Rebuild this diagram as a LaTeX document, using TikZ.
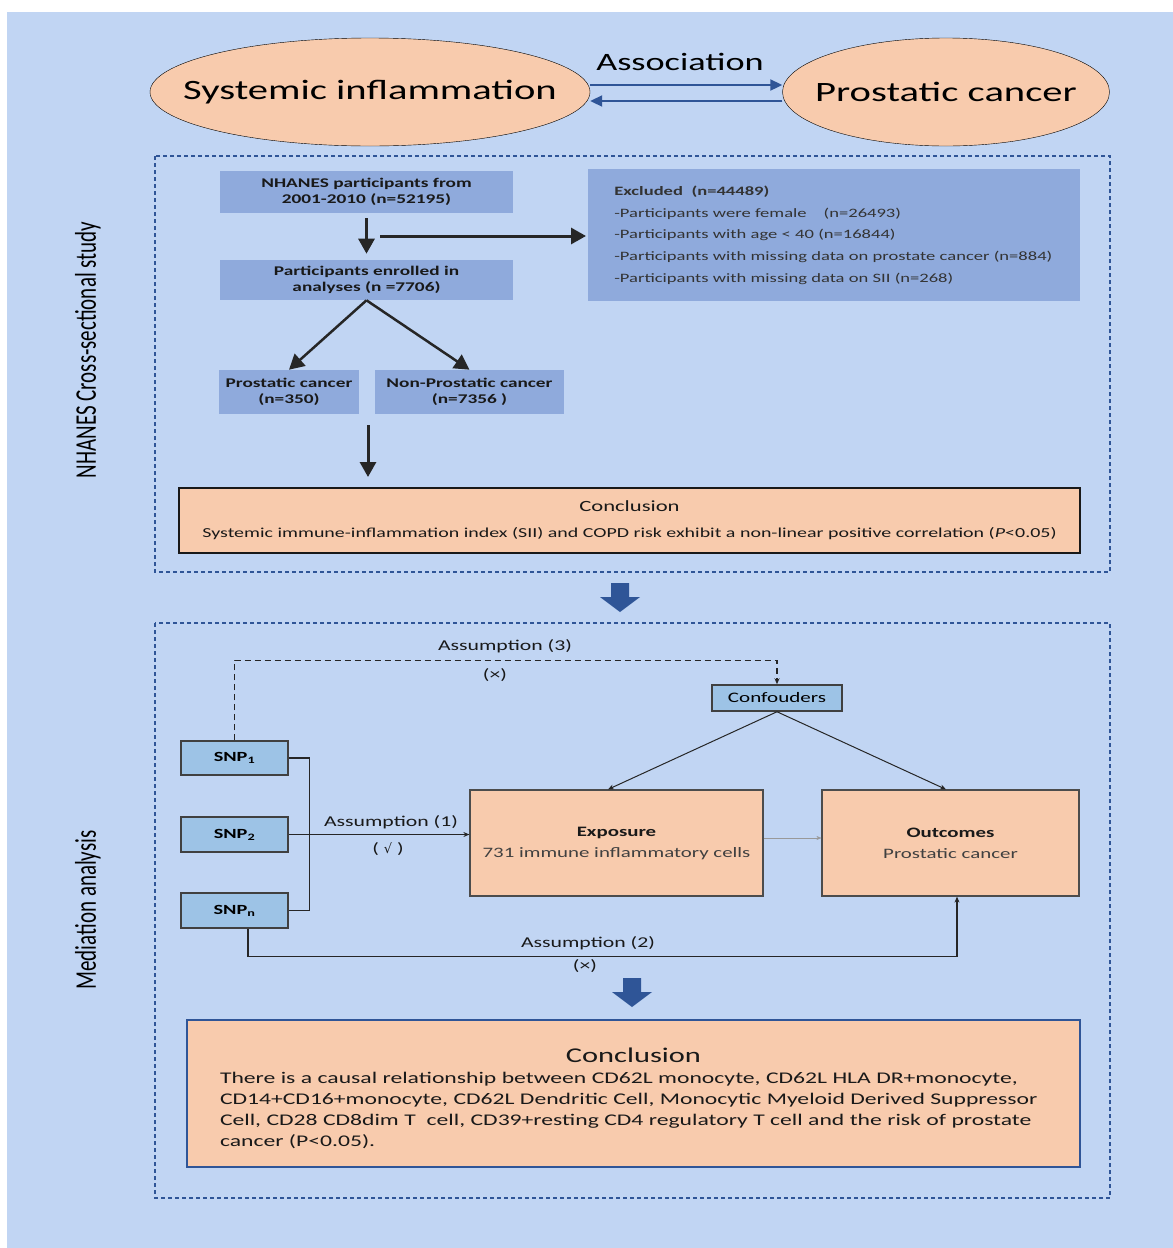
\documentclass[tikz,border=0pt]{standalone}
\usepackage{fontspec}
\setmainfont{Carlito}[FakeStretch=1.45]
\newfontfamily\sidefont{Carlito}[FakeStretch=0.7]
\newfontfamily\symfont{DejaVu Sans}
\usepackage{xcolor}
\usepackage{tikz}
\usetikzlibrary{arrows,arrows.meta,shapes.geometric,positioning,calc}

\definecolor{bgblue}{HTML}{C1D5F3}
\definecolor{peach}{HTML}{F8CBAD}
\definecolor{midblue}{HTML}{8FAADC}
\definecolor{snpblue}{HTML}{9DC3E6}
\definecolor{navy}{HTML}{2F5597}
\definecolor{inkgray}{HTML}{404040}
\newcommand{\fsz}[2]{\fontsize{#1}{#2}\selectfont}

\begin{document}
\begin{tikzpicture}[
    x = 1pt, y = -1pt, % one unit per pixel, y runs down
    > = stealth, % arrow head style
    semithick % line style
]
\tikzstyle{ellbox}=[ellipse, draw=black, thin, fill=peach, inner sep=0pt, font=\fsz{28}{32}]
\tikzstyle{flowbox}=[rectangle, fill=midblue, align=center, inner sep=0pt, text=black!90, font=\bfseries\fsz{13.3}{15.5}]
\tikzstyle{peachbox}=[rectangle, fill=peach, inner sep=0pt, text=black!90]
\tikzstyle{snpbox}=[rectangle, fill=snpblue, draw=black!75, line width=1.5pt, inner sep=0pt, font=\bfseries\fsz{14}{16}]
\tikzstyle{flowarrow}=[-{Triangle[length=15pt,width=16pt]}, line width=3pt, draw=black!85]
\tikzstyle{thinarrow}=[-{Stealth[length=6pt,width=5pt]}, line width=1.2pt, draw=black!85]
\tikzstyle{assocarrow}=[-{Triangle[length=12pt,width=11pt]}, line width=2pt, draw=navy, fill=navy]
\tikzstyle{studyframe}=[draw=navy, line width=2.5pt, dash pattern=on 4pt off 3pt]
\tikzstyle{blockarrow}=[fill=navy]
\tikzstyle{sidelabel}=[rotate=90, font=\sidefont\fsz{30}{32}, text=black]
\tikzstyle{plain}=[font=\fsz{15}{18}, text=black!90]

\useasboundingbox (0,0) rectangle (1173,1248);
\fill[bgblue] (7,12) rectangle (1173,1248);

% top: association
\node[ellbox, minimum width=440, minimum height=108] (infl) at (370,92) {\makebox[0pt]{Systemic inflammation}};
\node[ellbox, minimum width=327, minimum height=108] (pca) at (946,92) {\makebox[0pt]{Prostatic cancer}};
\node[font=\fsz{25}{30}] (assoc) at (680,62) {Association};
\draw[assocarrow] ([yshift=7pt]infl.east) -- ([yshift=7pt]pca.west);
\draw[assocarrow] ([yshift=-9pt]pca.west) -- ([yshift=-9pt]infl.east);

% NHANES part
\draw[studyframe] (155,156) rectangle (1110,572);
\node[sidelabel] (side1) at (88,350) {NHANES Cross-sectional study};

\node[flowbox, minimum width=293, minimum height=42] (nh) at (366.5,192) {NHANES participants from\\2001-2010 (n=52195)};
\node[flowbox, minimum width=293, minimum height=40] (en) at (366.5,280) {Participants enrolled in\\analyses (n =7706)};
\node[flowbox, anchor=north west, minimum width=492, minimum height=132, text width=440,
      align=left, inner xsep=26pt, font=\fsz{12.8}{21.7}, text=black!80] (ex) at (588,169)
  {\textbf{Excluded\ \ (n=44489)}\\
   -Participants were female \ \ \ (n=26493)\\
   -Participants with age < 40 (n=16844)\\
   -Participants with missing data on prostate cancer (n=884)\\
   -Participants with missing data on SII (n=268)};
\node[flowbox, minimum width=140, minimum height=44] (pc) at (289,392) {Prostatic cancer\\(n=350)};
\node[flowbox, minimum width=189, minimum height=44] (npc) at (469.5,392) {Non-Prostatic cancer\\(n=7356 )};

\coordinate (exsplit) at (380,236);
\coordinate (concsplit) at (368,425);
\draw[flowarrow, shorten <=5pt, shorten >=6pt] (nh) -- (en);
\draw[flowarrow, shorten >=2pt] (exsplit) -- (exsplit -| ex.west);
\draw[flowarrow, line width=2.5pt] (en.south) -- (pc.north);
\draw[flowarrow, line width=2.5pt] (en.south) -- (npc.north);

\node[peachbox, draw=black!90, line width=2pt, minimum width=901, minimum height=65,
      align=center, font=\fsz{13.75}{26}] (conc1) at (629.5,520.5)
  {{\fsz{15.6}{26}Conclusion}\\Systemic immune-inflammation index (SII) and COPD risk exhibit a non-linear positive correlation (\textit{P}<0.05)};
\draw[flowarrow, shorten >=10pt] (concsplit) -- (concsplit |- conc1.north);

\coordinate (down1) at (620,583);
\fill[blockarrow] (down1) ++(-9,0) -- ++(18,0) -- ++(0,14) -- ++(11,0) -- ++(-20,15) -- ++(-20,-15) -- ++(11,0) -- cycle;

% mediation part
\draw[studyframe] (155,623) rectangle (1110,1198);
\node[sidelabel] (side2) at (88,910) {Mediation analysis};

\node[snpbox, minimum width=107, minimum height=34] (snp1) at (234.5,758) {SNP\textsubscript{1}};
\node[snpbox, minimum width=107, minimum height=35] (snp2) at (234.5,834.5) {SNP\textsubscript{2}};
\node[snpbox, minimum width=107, minimum height=35] (snpn) at (234.5,910.5) {SNP\textsubscript{n}};
\node[snpbox, font=\fsz{14.5}{17}, minimum width=130, minimum height=26] (conf) at (777,698) {Confouders};

\node[peachbox, draw=black!70, line width=1.2pt, minimum width=293, minimum height=106,
      align=center, font=\fsz{14.4}{21}] (expo) at (616.5,843)
  {\textbf{Exposure}\\\textcolor{inkgray}{731 immune inflammatory cells}};
\node[peachbox, draw=black!70, line width=1.2pt, minimum width=257, minimum height=106,
      align=center, font=\fsz{14.4}{21}] (outc) at (950.5,843)
  {\textbf{Outcomes}\\\textcolor{inkgray}{Prostatic cancer}};

\draw[thinarrow, dash pattern=on 6pt off 4pt] (snp1.north) -- ++(0,-80) -| (conf.north);
\node[plain] (as3) at (505,646) {Assumption (3)};
\node[plain] (no3) at (495,675) {(×)};

\draw[line width=1.2pt, draw=black!85] (snp1.east) -- ++(21,0) |- (snpn.east);
\draw[thinarrow] (snp2.east) -- (expo.west |- snp2.east);
\node[plain] (as1) at (391,822) {Assumption (1)};
\node[plain] (ok1) at (388,849) {( {\symfont\fsz{13}{16}√} )};

\draw[thinarrow, line width=1pt] (conf.south) -- ([xshift=-8.5pt]expo.north);
\draw[thinarrow, line width=1pt] (conf.south) -- ([xshift=-4.5pt]outc.north);
\draw[-{Stealth[length=5pt,width=4pt]}, thin, draw=gray!80] ([yshift=5pt]expo.east) -- ([yshift=5pt]outc.west);

\draw[thinarrow] ([xshift=13.5pt]snpn.south) -- ++(0,28) -| ([xshift=6.5pt]outc.south);
\node[plain] (as2) at (588,943) {Assumption (2)};
\node[plain] (no2) at (585,966) {(×)};

\coordinate (down2) at (632,978);
\fill[blockarrow] (down2) ++(-9,0) -- ++(18,0) -- ++(0,14) -- ++(11,0) -- ++(-20,15) -- ++(-20,-15) -- ++(11,0) -- cycle;

\node[peachbox, draw=navy, line width=2.5pt, minimum width=893, minimum height=147,
      text width=827, inner xsep=33pt, align=left, font=\fsz{16.3}{21}] (conc2) at (633.5,1093.5)
  {{\centering\fsz{21}{21}Conclusion\par}
   There is a causal relationship between CD62L monocyte, CD62L HLA DR+monocyte,\\
   CD14+CD16+monocyte, CD62L Dendritic Cell, Monocytic Myeloid Derived Suppressor\\
   Cell, CD28 CD8dim T\ \ cell, CD39+resting CD4 regulatory T cell and the risk of prostate\\
   cancer (P<0.05).\vspace{-10pt}};

\end{tikzpicture}
\end{document}
